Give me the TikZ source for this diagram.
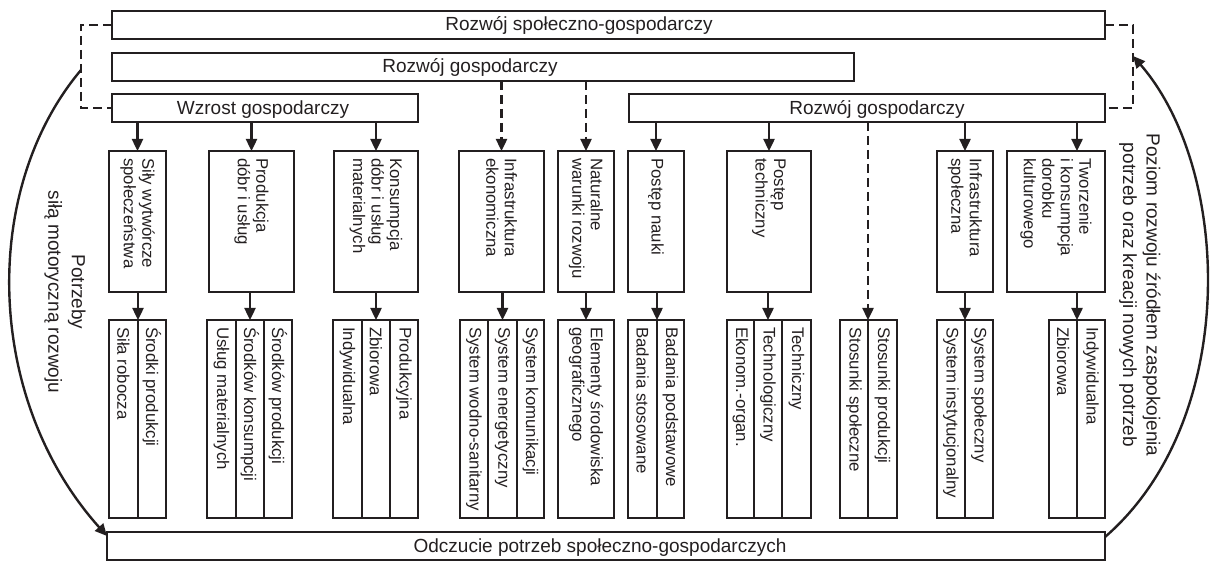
\documentclass[tikz,border=0pt]{standalone}
\usepackage{fontspec}
\setmainfont{Liberation Sans}
\usetikzlibrary{arrows.meta}
\definecolor{ink}{RGB}{35,31,32}
\newcommand\bx[5]{\node[box,anchor=north west,minimum width=#4pt-#2pt,minimum height=#5pt-#3pt] (#1) at (#2,#3) {};}
\newcommand\vtx[3]{\node[vt] (#1) at ([yshift=-7pt]#2.north) {#3};}
\begin{document}
\begin{tikzpicture}[x=1pt,y=-1pt,
 box/.style={draw=ink, line width=1.5pt, inner sep=0pt, outer sep=0pt},
 arr/.style={draw=ink, line width=2.4pt, -{Triangle[length=12pt,width=11pt]}},
 dsh/.style={draw=ink, line width=2.4pt, dash pattern=on 9pt off 5pt},
 ht/.style={font=\fontsize{19}{22}\selectfont, inner sep=0pt, anchor=base, text=ink},
 vt/.style={font=\fontsize{16.8}{18.5}\selectfont, inner sep=0pt, rotate=-90, anchor=west, align=left, text=ink},
 side/.style={font=\fontsize{19}{23.5}\selectfont, inner sep=0pt, rotate=-90, align=center, text=ink}]
\useasboundingbox (0,0) rectangle (1216,561);
% top rows
\bx{rsg}{112}{11}{1105}{39}
\bx{rg1}{112}{53}{854}{81}
\bx{wz}{112}{94}{418}{122}
\bx{rg2}{629}{94}{1105}{122}
\node[ht] (trsg) at (579,30.5) {Rozwój społeczno-gospodarczy};
\node[ht] (trg1) at (470,73) {Rozwój gospodarczy};
\node[ht] (twz) at (263,114.5) {Wzrost gospodarczy};
\node[ht] (trg2) at (877,114.5) {Rozwój gospodarczy};
% middle boxes
\bx{b1}{109}{151}{166}{292}
\bx{b2}{209}{151}{294}{292}
\bx{b3}{334}{151}{418}{292}
\bx{b4}{459}{151}{544}{292}
\bx{b5}{558}{151}{614}{292}
\bx{b6}{628}{151}{684}{292}
\bx{b7}{727}{151}{811}{292}
\bx{b8}{937}{151}{993}{292}
\bx{b9}{1007}{151}{1105}{292}
\vtx{tb1}{b1}{Siły wytwórcze\\społeczeństwa}
\vtx{tb2}{b2}{Produkcja\\dóbr i usług}
\vtx{tb3}{b3}{Konsumpcja\\dóbr i usług\\materialnych}
\vtx{tb4}{b4}{Infrastruktura\\ekonomiczna}
\vtx{tb5}{b5}{Naturalne\\warunki rozwoju}
\vtx{tb6}{b6}{Postęp nauki}
\vtx{tb7}{b7}{Postęp\\techniczny}
\vtx{tb8}{b8}{Infrastruktura\\społeczna}
\vtx{tb9}{b9}{Tworzenie\\i konsumpcja\\dorobku\\kulturowego}
% bottom groups
\bx{g1a}{109}{320}{138}{518}\bx{g1b}{138}{320}{166}{518}
\bx{g2a}{207}{320}{236}{518}\bx{g2b}{236}{320}{264}{518}\bx{g2c}{264}{320}{292}{518}
\bx{g3a}{333}{320}{362}{518}\bx{g3b}{362}{320}{390}{518}\bx{g3c}{390}{320}{418}{518}
\bx{g4a}{460}{320}{488}{518}\bx{g4b}{488}{320}{517}{518}\bx{g4c}{517}{320}{544}{518}
\bx{g5}{558}{320}{614}{518}
\bx{g6a}{628}{320}{657}{518}\bx{g6b}{657}{320}{684}{518}
\bx{g7a}{727}{320}{754}{518}\bx{g7b}{754}{320}{782}{518}\bx{g7c}{782}{320}{811}{518}
\bx{gsa}{840}{320}{868}{518}\bx{gsb}{868}{320}{897}{518}
\bx{g8a}{937}{320}{965}{518}\bx{g8b}{965}{320}{993}{518}
\bx{g9a}{1049}{320}{1077}{518}\bx{g9b}{1077}{320}{1105}{518}
\vtx{tg1a}{g1a}{Siła robocza}
\vtx{tg1b}{g1b}{Środki produkcji}
\vtx{tg2a}{g2a}{Usług materialnych}
\vtx{tg2b}{g2b}{Środków konsumpcji}
\vtx{tg2c}{g2c}{Środków produkcji}
\vtx{tg3a}{g3a}{Indywidualna}
\vtx{tg3b}{g3b}{Zbiorowa}
\vtx{tg3c}{g3c}{Produkcyjna}
\vtx{tg4a}{g4a}{System wodno-sanitarny}
\vtx{tg4b}{g4b}{System energetyczny}
\vtx{tg4c}{g4c}{System komunikacji}
\vtx{tg5}{g5}{Elementy środowiska\\geograficznego}
\vtx{tg6a}{g6a}{Badania stosowane}
\vtx{tg6b}{g6b}{Badania podstawowe}
\vtx{tg7a}{g7a}{Ekonom.-organ.}
\vtx{tg7b}{g7b}{Technologiczny}
\vtx{tg7c}{g7c}{Techniczny}
\vtx{tgsa}{gsa}{Stosunki społeczne}
\vtx{tgsb}{gsb}{Stosunki produkcji}
\vtx{tg8a}{g8a}{System instytucjonalny}
\vtx{tg8b}{g8b}{System społeczny}
\vtx{tg9a}{g9a}{Zbiorowa}
\vtx{tg9b}{g9b}{Indywidualna}
% bottom box
\bx{bot}{107}{532}{1105}{560}
\node[ht] (tbot) at (600,552.5) {Odczucie potrzeb społeczno-gospodarczych};
% arrows top -> middle
\draw[arr] (wz.south -| b1.north) -- (b1.north);
\draw[arr] (wz.south -| b2.north) -- (b2.north);
\draw[arr] (wz.south -| b3.north) -- (b3.north);
\draw[arr,dsh] (rg1.south -| b4.north) -- (b4.north);
\draw[arr,dsh] (rg1.south -| b5.north) -- (b5.north);
\draw[arr] (rg2.south -| b6.north) -- (b6.north);
\draw[arr] (rg2.south -| b7.north) -- (b7.north);
\draw[arr,dsh] (rg2.south -| gsa.north east) -- (gsa.north east);
\draw[arr] (rg2.south -| b8.north) -- (b8.north);
\draw[arr] (rg2.south -| g9a.north east) -- (b9.north -| g9a.north east);
% arrows middle -> bottom
\draw[arr] (b1.south -| g1a.north east) -- (g1a.north east);
\draw[arr] (b2.south -| g2b.north) -- (g2b.north);
\draw[arr] (b3.south -| g3b.north) -- (g3b.north);
\draw[arr] (b4.south -| g4b.north) -- (g4b.north);
\draw[arr] (b5.south) -- (g5.north);
\draw[arr] (b6.south -| g6a.north east) -- (g6a.north east);
\draw[arr] (b7.south -| g7b.north) -- (g7b.north);
\draw[arr] (b8.south -| g8a.north east) -- (g8a.north east);
\draw[arr] (b9.south -| g9a.north east) -- (g9a.north east);
% dashed brackets
\draw[dsh] (rsg.west) -- ++(-31,0) |- (wz.west);
\draw[dsh] (rsg.east) -- ++(28,0) |- (rg2.east);
% feedback curves
\coordinate (cl) at (81,70);
\coordinate (cr) at (1133,56);
\draw[arr] (cl) .. controls (-20,190) and (-15,400) .. ([yshift=-4pt]bot.north west);
\draw[arr] ([yshift=-5pt]bot.north east) .. controls (1240,420) and (1232,170) .. (cr);
% side labels
\node[side] (sl) at (65,292) {Potrzeby\\siłą motoryczną rozwoju};
\node[side] (sr) at (1140,295) {Poziom rozwoju źródłem zaspokojenia\\potrzeb oraz kreacji nowych potrzeb};
\end{tikzpicture}
\end{document}
